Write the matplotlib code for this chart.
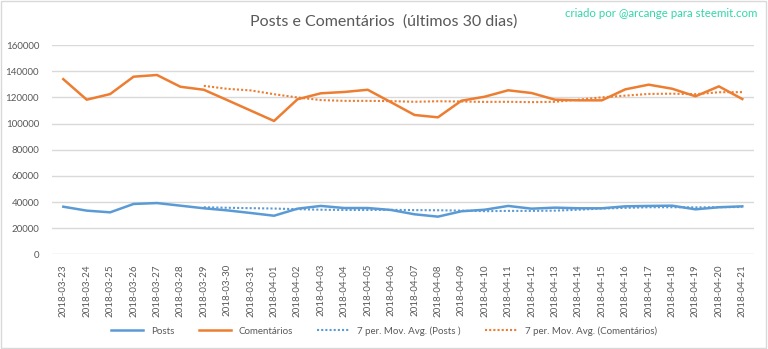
import matplotlib
matplotlib.use("Agg")
import matplotlib.pyplot as plt
import numpy as np
from matplotlib.patches import Rectangle

plt.rcParams['font.family'] = ['Lato', 'DejaVu Sans']

# data
dates = ['2018-03-23', '2018-03-24', '2018-03-25', '2018-03-26', '2018-03-27',
         '2018-03-28', '2018-03-29', '2018-03-30', '2018-03-31', '2018-04-01',
         '2018-04-02', '2018-04-03', '2018-04-04', '2018-04-05', '2018-04-06',
         '2018-04-07', '2018-04-08', '2018-04-09', '2018-04-10', '2018-04-11',
         '2018-04-12', '2018-04-13', '2018-04-14', '2018-04-15', '2018-04-16',
         '2018-04-17', '2018-04-18', '2018-04-19', '2018-04-20', '2018-04-21']

posts = [36400, 33400, 32100, 38500, 39200, 37200, 35200, 33600, 31600, 29500,
         34900, 37000, 35400, 35400, 33900, 30600, 28800, 32900, 34100, 37000,
         34900, 35700, 35200, 35200, 36700, 37000, 37200, 34400, 36000, 36700]

comentarios = [134000, 118300, 122600, 135900, 137200, 128200, 125900, 118000, 110000, 102000,
               118600, 123200, 124200, 125900, 116300, 106600, 104800, 117500, 120600, 125500,
               123400, 118300, 117800, 117800, 126200, 129800, 126700, 120900, 128500, 118800]

# 7 period moving averages as drawn (empty for the first 6 days)
ma_posts = [None] * 6 + [36000, 35600, 35300, 35000, 34500, 34100, 33900, 33900, 34000,
                         33800, 33700, 33400, 33000, 33200, 33200, 33400, 34100, 35000,
                         35500, 36000, 36000, 35900, 36000, 36200]

ma_comentarios = [None] * 6 + [128900, 126600, 125400, 122500, 120000, 118000, 117400, 117400,
                               117200, 116700, 117100, 116900, 116600, 116700, 116400, 116700,
                               118300, 120100, 121400, 122700, 122900, 122500, 124000, 124100]

blue = '#5B9BD5'
orange = '#ED7D31'
grey_text = '#595959'

fig = plt.figure(figsize=(7.68, 3.49), dpi=100)
ax = fig.add_axes([0.0672, 0.2714, 0.9146, 0.5991])

x = np.arange(len(dates))
ma_p = np.array([np.nan if v is None else v for v in ma_posts], dtype=float)
ma_c = np.array([np.nan if v is None else v for v in ma_comentarios], dtype=float)

ax.plot(x, posts, color=blue, lw=1.8, label='Posts', solid_joinstyle='round')
ax.plot(x, comentarios, color=orange, lw=1.8, label='Comentários', solid_joinstyle='round')
ax.plot(x, ma_p, color=blue, lw=1.5, ls=(0, (1, 1)), label='7 per. Mov. Avg. (Posts )')
ax.plot(x, ma_c, color=orange, lw=1.5, ls=(0, (1, 1)), label='7 per. Mov. Avg. (Comentários)')

ax.set_xlim(-0.5, len(dates) - 0.5)
ax.set_ylim(0, 160000)
ax.set_yticks(np.arange(0, 160001, 20000))
ax.set_yticklabels([str(v) for v in range(0, 160001, 20000)])
ax.set_xticks(x)
ax.set_xticklabels(dates, rotation=90)
ax.tick_params(axis='both', length=0, colors=grey_text, labelsize=7)
ax.tick_params(axis='y', pad=9)
ax.tick_params(axis='x', pad=7)
ax.grid(axis='y', color='#D9D9D9', lw=1)
ax.set_axisbelow(True)
for s in ax.spines.values():
    s.set_visible(False)

fig.text(0.5, 0.938, 'Posts e Comentários  (últimos 30 dias)', ha='center', va='center',
         fontsize=11.5, color=grey_text)
fig.text(0.986, 0.962, 'criado por @arcange para steemit.com', ha='right', va='center',
         fontsize=8.3, color='#33D6A8')

fig.legend(loc='center', bbox_to_anchor=(0.5, 0.052), ncol=4, frameon=False,
           fontsize=7, handlelength=3.3, columnspacing=2.5, labelcolor=grey_text)

fig.patches.append(Rectangle((0.001, 0.002), 0.997, 0.995, transform=fig.transFigure,
                             fill=False, edgecolor='#D9D9D9', lw=1))

fig.savefig('out.png', dpi=100)
